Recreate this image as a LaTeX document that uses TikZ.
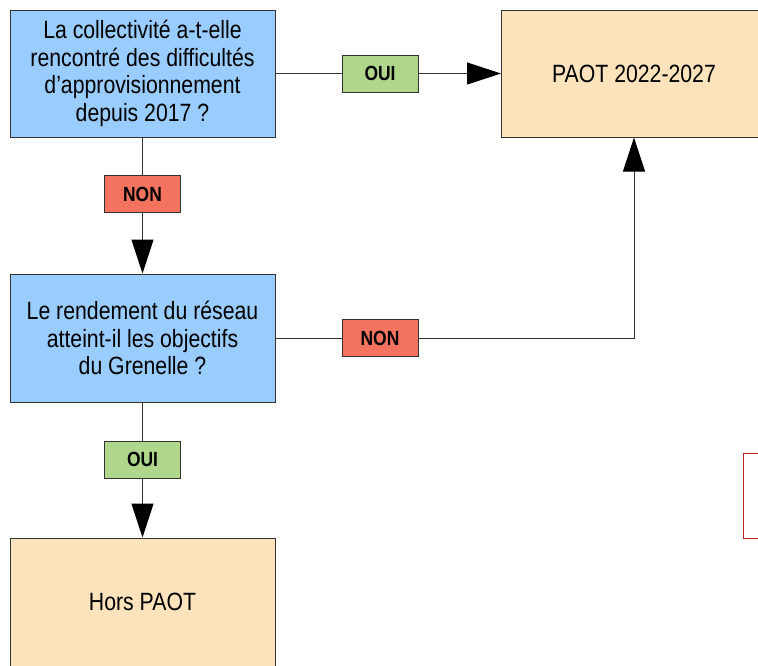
\documentclass[tikz,border=0pt]{standalone}
\usepackage{fontspec}
\setmainfont{Liberation Sans}[FakeStretch=0.85]
\usetikzlibrary{arrows.meta}
\definecolor{qblue}{HTML}{99CCFF}
\definecolor{paot}{HTML}{FDE3BB}
\definecolor{ouicol}{HTML}{AFD68B}
\definecolor{noncol}{HTML}{F4735F}
\definecolor{framecol}{HTML}{333333}
\definecolor{notecol}{HTML}{B8252B}
\begin{document}
\begin{tikzpicture}[x=1pt,y=-1pt,
  box/.style={draw=framecol, line width=1pt, minimum width=265pt, minimum height=127pt,
    inner sep=0pt, align=center, font=\fontsize{25}{27.5}\selectfont},
  question/.style={box, fill=qblue},
  result/.style={box, fill=paot},
  tag/.style={draw=framecol, line width=1pt, minimum width=76pt, minimum height=37pt,
    inner sep=0pt, font=\fontsize{20.5}{22}\selectfont\bfseries},
  yes/.style={tag, fill=ouicol},
  no/.style={tag, fill=noncol},
  link/.style={draw=framecol, line width=1pt},
  arr/.style={link, -{Triangle[length=34pt,width=22pt,color=black,fill=black]}}]
\useasboundingbox (0,0) rectangle (758,665);
\clip (0,0) rectangle (758,665);

\node[question] (q1) at (142.5,73.5) {La collectivité a-t-elle\\rencontré des difficultés\\d’approvisionnement\\depuis 2017 ?};
\node[result] (paot) at (634,73.5) {PAOT 2022-2027};
\node[question, minimum height=128pt] (q2) at (142.5,338) {Le rendement du réseau\\atteint-il les objectifs\\du Grenelle ?};
\node[result, minimum height=128pt] (hors) at (142.5,602) {Hors PAOT};
\node[draw=notecol, line width=1pt, fill=white, minimum width=28pt, minimum height=85pt, inner sep=0pt] (note) at (757,495.5) {};

\node[yes] (yes1) at (380,73.5) {OUI};
\node[no] (no1) at (142.5,194) {NON};
\node[no] (no2) at (380,338) {NON};
\node[yes] (yes2) at (142.5,459.5) {OUI};

\draw[link] (q1) -- (yes1);
\draw[arr] (yes1) -- (paot);
\draw[link] (q1) -- (no1);
\draw[arr] (no1) -- (q2);
\draw[link] (q2) -- (no2);
\draw[arr] (no2) -| (paot);
\draw[link] (q2) -- (yes2);
\draw[arr] (yes2) -- (hors);
\end{tikzpicture}
\end{document}
